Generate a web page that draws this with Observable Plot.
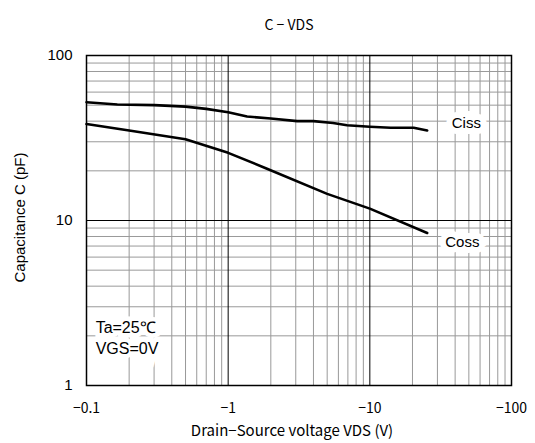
<!DOCTYPE html>
<html>
<head>
<meta charset="utf-8">
<script src="https://cdn.jsdelivr.net/npm/d3@7"></script>
<script src="https://cdn.jsdelivr.net/npm/@observablehq/plot@0.6"></script>
<style>
  html, body { margin: 0; padding: 0; background: #fff; }
  #chart svg { display: block; }
</style>
</head>
<body>
<div id="chart"></div>
<script>
// Data (|VDS| in V, capacitance in pF)
const cissV = [0.1, 0.165, 0.3, 0.39, 0.5, 0.7, 1, 1.36, 2, 3.07, 4, 5.5, 6.9, 10, 14, 20.4, 25.4];
const cissC = [52.1, 50.5, 50, 49.5, 49, 47.5, 45.3, 42.7, 41.5, 40, 40, 39, 37.8, 37, 36.5, 36.5, 35.1];
const cossV = [0.1, 0.2, 0.5, 1, 1.88, 5, 10, 25.4];
const cossC = [38.4, 35.1, 31.1, 25.7, 20.6, 14.5, 11.8, 8.4];

const xTicks = [0.1, 1, 10, 100];
const xTickLabels = ["−0.1", "−1", "−10", "−100"];
const yTicks = [1, 10, 100];
const xMinor = [0.2, 0.3, 0.4, 0.5, 0.6, 0.7, 0.8, 0.9, 2, 3, 4, 5, 6, 7, 8, 9, 20, 30, 40, 50, 60, 70, 80, 90];
const yMinor = [2, 3, 4, 5, 6, 7, 8, 9, 20, 30, 40, 50, 60, 70, 80, 90];

const labels = [
  {x: 48, y: 38.7, text: "Ciss"},
  {x: 45, y: 7.4, text: "Coss"}
];
const notes = [
  {x: 0.116, y: 2.25, text: "Ta=25℃"},
  {x: 0.116, y: 1.67, text: "VGS=0V"}
];

const cissData = cissV.map((v, i) => ({v, c: cissC[i]}));
const cossData = cossV.map((v, i) => ({v, c: cossC[i]}));

const axisFont = "'Noto Sans CJK JP', 'Liberation Sans', sans-serif";
const labelFont = "'Liberation Sans', Arial, sans-serif";

const chart = Plot.plot({
  width: 535,
  height: 443,
  marginLeft: 86,
  marginRight: 24,
  marginTop: 55,
  marginBottom: 58,
  style: {fontFamily: labelFont, fontSize: "13px", background: "#fff", color: "#000"},
  x: {type: "log", domain: [0.1, 100], ticks: xTicks, tickFormat: d => xTickLabels[xTicks.indexOf(d)] ?? ""},
  y: {type: "log", domain: [1, 100], ticks: yTicks, tickFormat: d => String(d)},
  marks: [
    Plot.ruleX(xMinor, {stroke: "#999", strokeWidth: 1}),
    Plot.ruleY(yMinor, {stroke: "#999", strokeWidth: 1}),
    Plot.ruleX([1, 10], {stroke: "#000", strokeWidth: 1}),
    Plot.ruleY([10], {stroke: "#000", strokeWidth: 1}),
    Plot.line(cissData, {x: "v", y: "c", stroke: "#000", strokeWidth: 2.6}),
    Plot.line(cossData, {x: "v", y: "c", stroke: "#000", strokeWidth: 2.6}),
    Plot.text(labels, {x: "x", y: "y", text: "text", fontSize: 15, fill: "#000", stroke: "#fff", strokeWidth: 12, strokeLinejoin: "miter", fontFamily: labelFont}),
    Plot.text(notes, {x: "x", y: "y", text: "text", textAnchor: "start", fontSize: 16, fill: "#000", stroke: "#fff", strokeWidth: 9, strokeLinejoin: "miter", fontFamily: labelFont}),
    Plot.frame({stroke: "#000", strokeWidth: 1.5}),
    Plot.axisX({ticks: xTicks, tickSize: 0, tickPadding: 18, fontSize: 14, fontFamily: axisFont, label: null, tickFormat: d => xTickLabels[xTicks.indexOf(d)] ?? ""}),
    Plot.axisY({ticks: yTicks, tickSize: 0, tickPadding: 14, fontSize: 15, fontFamily: labelFont, label: null}),
    Plot.text(["C − VDS"], {frameAnchor: "top", dx: -10, dy: -35, fontSize: 14, fontFamily: axisFont, fill: "#000"}),
    Plot.text(["Drain−Source voltage VDS (V)"], {frameAnchor: "bottom", dx: -7, dy: 50, fontSize: 15, fontFamily: axisFont, fill: "#000"}),
    Plot.text(["Capacitance C (pF)"], {frameAnchor: "left", textAnchor: "middle", dx: -66, dy: -3, rotate: -90, fontSize: 15, fontFamily: labelFont, fill: "#000"})
  ]
});
document.getElementById("chart").appendChild(chart);
</script>
</body>
</html>
